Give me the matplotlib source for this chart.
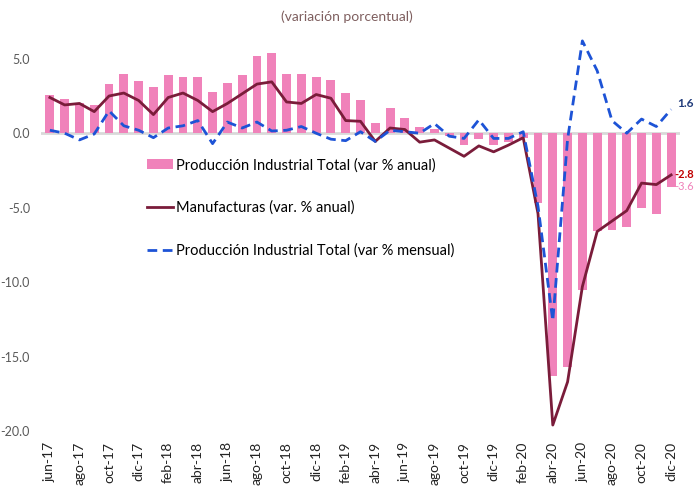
import matplotlib
matplotlib.use('Agg')
import matplotlib.pyplot as plt

plt.rcParams['font.family'] = ['Lato', 'DejaVu Sans']

meses = ['jun-17', 'jul-17', 'ago-17', 'sep-17', 'oct-17', 'nov-17', 'dic-17',
         'ene-18', 'feb-18', 'mar-18', 'abr-18', 'may-18', 'jun-18', 'jul-18',
         'ago-18', 'sep-18', 'oct-18', 'nov-18', 'dic-18', 'ene-19', 'feb-19',
         'mar-19', 'abr-19', 'may-19', 'jun-19', 'jul-19', 'ago-19', 'sep-19',
         'oct-19', 'nov-19', 'dic-19', 'ene-20', 'feb-20', 'mar-20', 'abr-20',
         'may-20', 'jun-20', 'jul-20', 'ago-20', 'sep-20', 'oct-20', 'nov-20',
         'dic-20']

# produccion industrial total, var % anual (barras)
pi_anual = [2.6, 2.3, 2.0, 1.9, 3.3, 4.0, 3.5, 3.1, 3.9, 3.8, 3.8, 2.8, 3.4,
            3.9, 5.2, 5.4, 4.0, 4.0, 3.8, 3.6, 2.7, 2.2, 0.7, 1.7, 1.0, 0.4,
            0.25, -0.2, -0.8, -0.4, -0.8, -0.6, -0.3, -4.7, -16.3, -15.7,
            -10.5, -6.6, -6.5, -6.3, -5.0, -5.4, -3.6]

# manufacturas, var % anual
manuf = [2.4, 1.9, 2.0, 1.45, 2.5, 2.7, 2.2, 1.25, 2.4, 2.7, 2.2, 1.45, 2.0,
         2.65, 3.3, 3.45, 2.1, 2.0, 2.6, 2.35, 0.85, 0.8, -0.55, 0.35, 0.25,
         -0.6, -0.45, -1.0, -1.55, -0.85, -1.25, -0.8, -0.3, -5.4, -19.6,
         -16.7, -10.3, -6.6, -5.9, -5.2, -3.35, -3.45, -2.8]

# produccion industrial total, var % mensual
pi_mensual = [0.2, 0.0, -0.45, -0.05, 1.5, 0.5, 0.2, -0.3, 0.35, 0.5, 0.85,
              -0.7, 0.75, 0.35, 0.75, 0.15, 0.2, 0.45, 0.0, -0.4, -0.5, 0.1,
              -0.55, 0.2, 0.1, 0.0, 0.65, -0.2, -0.35, 0.9, -0.35, -0.35, 0.1,
              -4.9, -12.6, -0.4, 6.2, 4.2, 0.85, 0.0, 0.95, 0.45, 1.6]

ROSA = '#F082BA'
GRANATE = '#7A1C3A'
AZUL = '#1D53D6'

x = list(range(len(meses)))

fig = plt.figure(figsize=(6.94, 5.0), dpi=100)
ax = fig.add_axes([41 / 694, 69 / 500, 639 / 694, 402 / 500])

ax.axhline(0, color='#d9d9d9', linewidth=2, zorder=1)
barras = ax.bar(x, pi_anual, width=0.6, color=ROSA, zorder=2,
                label='Producción Industrial Total (var % anual)')
l_manuf, = ax.plot(x, manuf, color=GRANATE, linewidth=2, zorder=3,
                   label='Manufacturas (var. % anual)')
l_mens, = ax.plot(x, pi_mensual, color=AZUL, linewidth=2,
                  linestyle=(0, (3.5, 2)), zorder=4,
                  label='Producción Industrial Total (var % mensual)')

ax.set_xlim(-0.6, 42.6)
ax.set_ylim(-20, 7)
ax.set_yticks([5, 0, -5, -10, -15, -20])
ax.set_yticklabels(['5.0', '0.0', '-5.0', '-10.0', '-15.0', '-20.0'],
                   color='#595959', fontsize=9)
ax.set_xticks(x[::2])
ax.set_xticklabels(meses[::2], rotation=90, fontsize=10, color='#222222')
ax.tick_params(length=0, pad=8)
for s in ax.spines.values():
    s.set_visible(False)

# etiquetas del ultimo dato
ax.text(42.4, pi_mensual[-1] + 0.4, '1.6', color='#1F3A7A', fontsize=8.5,
        fontweight='bold', va='center', clip_on=False)
ax.text(42.2, manuf[-1], '-2.8', color='#C00000', fontsize=8,
        fontweight='bold', va='center', clip_on=False)
ax.text(42.2, pi_anual[-1], '-3.6', color=ROSA, fontsize=8, va='center',
        clip_on=False)

fig.text(0.5, 1 - 17 / 500, '(variación porcentual)', ha='center',
         va='center', color='#7F5F5F', fontsize=10)

fig.legend([barras, l_manuf, l_mens],
           [barras.get_label(), l_manuf.get_label(), l_mens.get_label()],
           loc='upper left', bbox_to_anchor=(147 / 694, 1 - 158 / 500),
           frameon=False, fontsize=10.5, labelspacing=1.95, handlelength=1.8,
           handletextpad=0.2, borderpad=0, borderaxespad=0)

plt.savefig('out.png', dpi=100)
